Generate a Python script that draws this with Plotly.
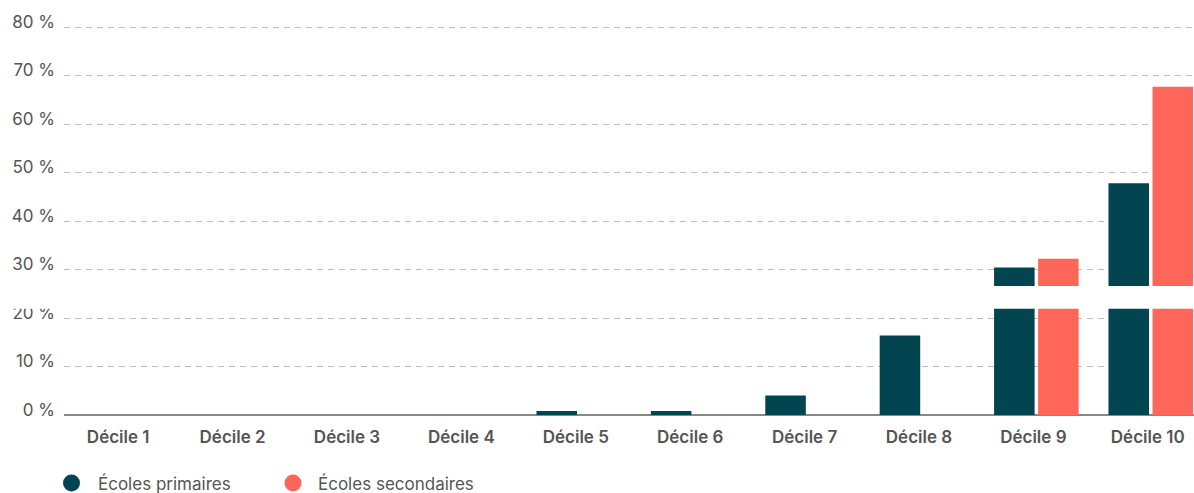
import plotly.graph_objects as go

# Part des écoles par décile
deciles = ["Décile 1", "Décile 2", "Décile 3", "Décile 4", "Décile 5",
           "Décile 6", "Décile 7", "Décile 8", "Décile 9", "Décile 10"]
primaires = [0, 0, 0, 0, 0.8, 0.8, 4.0, 16.4, 30.4, 47.8]
secondaires = [0, 0, 0, 0, 0, 0, 0, 0, 32.2, 67.7]
y_ticks = [0, 10, 20, 30, 40, 50, 60, 70, 80]
y_labels = [f"{v} %" for v in y_ticks]
series_names = ["Écoles primaires", "Écoles secondaires"]

TEAL = "#02444F"
CORAL = "#FF665A"
TEXT = "#555555"
FONT = "Inter"

W, H = 1194, 493
ML, MT, MB = 64, 20, 78
PLOT_W = W - ML
PLOT_H = H - MT - MB
SCALE_H = 388  # pixels spanned by 0 % .. 80 %

x_pos = list(range(len(deciles)))

fig = go.Figure()
fig.add_trace(go.Bar(x=x_pos, y=primaires, name=series_names[0],
                     marker=dict(color=TEAL, line=dict(width=0))))
fig.add_trace(go.Bar(x=x_pos, y=secondaires, name=series_names[1],
                     marker=dict(color=CORAL, line=dict(width=0))))

fig.update_layout(
    width=W, height=H,
    margin=dict(l=ML, r=0, t=MT, b=MB, autoexpand=False),
    plot_bgcolor="white", paper_bgcolor="white",
    barmode="group", bargap=0.23, bargroupgap=0.08,
    font=dict(family=FONT, color=TEXT),
    showlegend=False,
)
fig.update_xaxes(
    range=[-0.5, 9.378], tickvals=x_pos, ticktext=deciles,
    tickfont=dict(size=17, color=TEXT, family=FONT, weight=600),
    ticks="", showgrid=False, zeroline=False, showline=False,
    ticklabelshift=-3, ticklabelstandoff=10,
)
y_top = 80 * PLOT_H / SCALE_H
fig.update_yaxes(
    range=[0, y_top], tickvals=y_ticks, ticktext=y_labels,
    tickfont=dict(size=17, color=TEXT, family=FONT),
    showgrid=True, gridcolor="#BBBBBB", griddash="6px,5px", gridwidth=1,
    zeroline=True, zerolinecolor="#888888", zerolinewidth=2,
    ticks="", ticklabelstandoff=8, ticklabelshift=-5, showline=False,
)

# white band across the chart
fig.add_shape(type="rect", xref="paper", yref="y", x0=-0.2, x1=1.02, y0=21.9, y1=26.6,
              fillcolor="white", line=dict(width=0), layer="above")

# legend: round markers and labels below the axis
legend_y = -68 / PLOT_H
for name, col, cx, tx in [(series_names[0], TEAL, 71.5, 96),
                          (series_names[1], CORAL, 293, 316)]:
    fig.add_shape(type="circle", xref="paper", yref="paper",
                  xsizemode="pixel", ysizemode="pixel",
                  xanchor=(cx - ML) / PLOT_W, yanchor=legend_y,
                  x0=-8.5, x1=8.5, y0=-8.5, y1=8.5,
                  fillcolor=col, line=dict(width=0), layer="above")
    fig.add_annotation(x=(tx - ML) / PLOT_W, y=legend_y, xref="paper", yref="paper",
                       text=name, showarrow=False, xanchor="left", yanchor="middle",
                       font=dict(size=17, color=TEXT, family=FONT))

fig.write_html("out.html")
